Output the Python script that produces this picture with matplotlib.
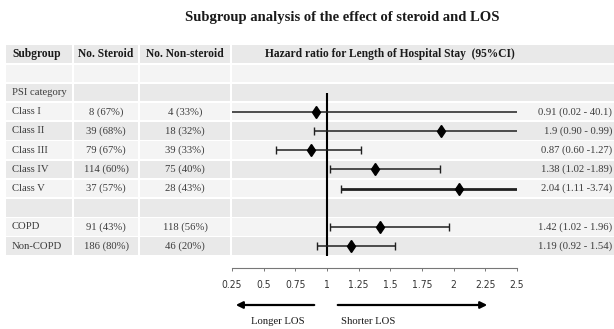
import matplotlib
matplotlib.use("Agg")
import matplotlib.pyplot as plt
from matplotlib.patches import Rectangle

# table rows (after the header)
rows = ["", "PSI category", "Class I", "Class II", "Class III", "Class IV",
        "Class V", "", "COPD", "Non-COPD"]
n_steroid = ["", "", "8 (67%)", "39 (68%)", "79 (67%)", "114 (60%)",
             "37 (57%)", "", "91 (43%)", "186 (80%)"]
n_nonsteroid = ["", "", "4 (33%)", "18 (32%)", "39 (33%)", "75 (40%)",
                "28 (43%)", "", "118 (56%)", "46 (20%)"]
headers = ["Subgroup", "No. Steroid", "No. Non-steroid",
           "Hazard ratio for Length of Hospital Stay  (95%CI)"]

# forest plot data
hr_groups = ["Class I", "Class II", "Class III", "Class IV", "Class V", "COPD", "Non-COPD"]
hr = [0.91, 1.9, 0.87, 1.38, 2.04, 1.42, 1.19]
ci_lo = [0.02, 0.90, 0.60, 1.02, 1.11, 1.02, 0.92]
ci_hi = [40.1, 3.99, 1.27, 1.89, 3.74, 1.96, 1.54]   # Class II bar runs off the scale in the figure
ci_text = ["0.91 (0.02 - 40.1)", "1.9 (0.90 - 0.99)", "0.87 (0.60 -1.27)",
           "1.38 (1.02 -1.89)", "2.04 (1.11 -3.74)", "1.42 (1.02 - 1.96)",
           "1.19 (0.92 - 1.54)"]
ticks = [0.25, 0.5, 0.75, 1, 1.25, 1.5, 1.75, 2, 2.25, 2.5]

W, H = 614, 329
fig = plt.figure(figsize=(W / 100, H / 100), dpi=100, facecolor="white")

serif = ["Liberation Serif", "DejaVu Serif"]
dark = "#1a1a1a"
body = "#3c3c3c"

# ---- background table in pixel coordinates
bg = fig.add_axes([0, 0, 1, 1])
bg.set_xlim(0, W)
bg.set_ylim(H, 0)
bg.axis("off")

cols = [(6, 72), (74, 138), (140, 230), (232, 614)]
top0 = 44.5
pitch = 19.2
n_rows = len(rows) + 1

for r in range(n_rows):
    fc = "#e9e9e9" if r % 2 == 0 else "#f4f4f4"
    y0 = top0 + r * pitch + 0.8
    for x0, x1 in cols:
        bg.add_patch(Rectangle((x0, y0), x1 - x0, pitch - 1.6, facecolor=fc, edgecolor="none"))

def row_mid(r):
    return top0 + (r + 0.5) * pitch

bg.text(342, 17, "Subgroup analysis of the effect of steroid and LOS", ha="center", va="center",
        fontsize=10.5, fontweight="bold", family=serif, color=dark)

hy = row_mid(0)
bg.text(12, hy, headers[0], ha="left", va="center", fontsize=8.3, fontweight="bold", family=serif, color=dark)
bg.text(106, hy, headers[1], ha="center", va="center", fontsize=8.3, fontweight="bold", family=serif, color=dark)
bg.text(185, hy, headers[2], ha="center", va="center", fontsize=8.3, fontweight="bold", family=serif, color=dark)
bg.text(390, hy, headers[3], ha="center", va="center", fontsize=8.3, fontweight="bold", family=serif, color=dark)

for i, name in enumerate(rows):
    y = row_mid(i + 1)
    bg.text(12, y, name, ha="left", va="center", fontsize=7.7, family=serif, color=body)
    bg.text(106, y, n_steroid[i], ha="center", va="center", fontsize=7.7, family=serif, color=body)
    bg.text(185, y, n_nonsteroid[i], ha="center", va="center", fontsize=7.7, family=serif, color=body)

for name, txt in zip(hr_groups, ci_text):
    y = row_mid(rows.index(name) + 1)
    bg.text(612, y, txt, ha="right", va="center", fontsize=7.7, family=serif, color=body)

# ---- forest plot axes over the HR column
x_left, x_right = 232, 517
y_axis = 268
ax = fig.add_axes([x_left / W, 1 - y_axis / H, (x_right - x_left) / W, (y_axis - top0) / H])
ax.patch.set_alpha(0)
ax.set_xlim(ticks[0], ticks[-1])
ax.set_ylim((y_axis - top0) / pitch - 0.5, -0.5)

psi_row = rows.index("PSI category") + 1
ax.vlines(1, psi_row, n_rows - 0.5, color="black", lw=1.5, zorder=3)

for name, h, lo, hi in zip(hr_groups, hr, ci_lo, ci_hi):
    r = rows.index(name) + 1
    lw = 2.0 if name == "Class V" else 1.1
    ax.errorbar(h, r, xerr=[[h - lo], [hi - h]], fmt="none", ecolor="#202020",
                elinewidth=lw, capsize=2.8, capthick=1.0, zorder=4)
    ax.plot(h, r, marker="d", markersize=6.6, color="black", zorder=5)

for s in ["top", "left", "right"]:
    ax.spines[s].set_visible(False)
ax.spines["bottom"].set_color("#777777")
ax.spines["bottom"].set_linewidth(0.8)
ax.spines["bottom"].set_bounds(ticks[0], ticks[-1])
ax.set_yticks([])
ax.set_xticks(ticks)
ax.set_xticklabels([f"{t:g}" for t in ticks])
ax.tick_params(axis="x", direction="out", length=2.5, width=0.7, color="#777777", pad=6)
for lab in ax.get_xticklabels():
    lab.set_family(["Liberation Sans Narrow", "DejaVu Sans"])
    lab.set_fontstretch("condensed")
    lab.set_fontsize(7.4)
    lab.set_color("#333333")

# direction arrows and labels below the scale
coords = ("data", "figure pixels")
ax.annotate("", xy=(0.258, H - 305), xytext=(0.921, H - 305), xycoords=coords, textcoords=coords,
            arrowprops=dict(arrowstyle="-|>", color="black", lw=1.6, mutation_scale=10))
ax.annotate("", xy=(2.287, H - 305), xytext=(1.063, H - 305), xycoords=coords, textcoords=coords,
            arrowprops=dict(arrowstyle="-|>", color="black", lw=1.6, mutation_scale=10))
ax.annotate("Longer LOS", xy=(0.613, H - 322), xycoords=coords, ha="center", va="center",
            fontsize=7.7, family=serif, color=dark, annotation_clip=False)
ax.annotate("Shorter LOS", xy=(1.324, H - 322), xycoords=coords, ha="center", va="center",
            fontsize=7.7, family=serif, color=dark, annotation_clip=False)

fig.savefig("out.png", dpi=100, facecolor="white")
